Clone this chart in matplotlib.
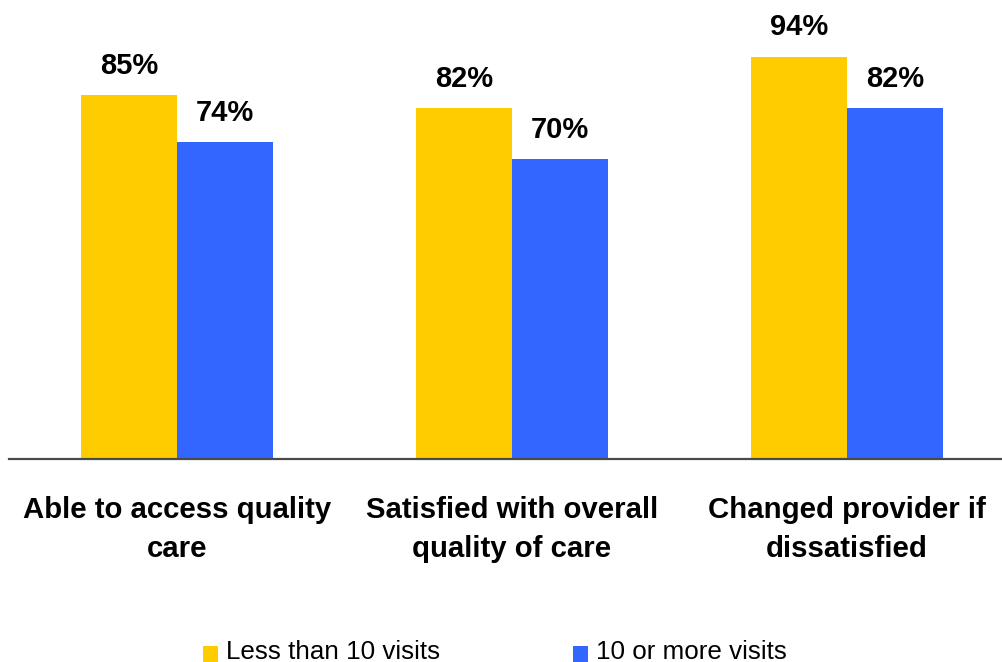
import matplotlib
matplotlib.use("Agg")
import matplotlib.pyplot as plt
from matplotlib.patches import Rectangle

plt.rcParams['font.family'] = ['Liberation Sans', 'DejaVu Sans']

categories = [["Able to access quality", "care"],
              ["Satisfied with overall", "quality of care"],
              ["Changed provider if", "dissatisfied"]]
series_names = ["Less than 10 visits", "10 or more visits"]
less_than_10 = [85, 82, 94]
ten_or_more = [74, 70, 82]
colors = ["#FFCC00", "#3366FF"]

W, H = 1002, 662
fig = plt.figure(figsize=(W / 100, H / 100), dpi=100)
ax = fig.add_axes([9 / W, (H - 459) / H, 993 / W, 428 / H])

xmin = -(177 - 9) / 335
xmax = xmin + 993 / 335
ax.set_xlim(xmin, xmax)
ax.set_ylim(0, 100)

bw = 96 / 335
xs = list(range(len(categories)))
for vals, col, sgn in [(less_than_10, colors[0], -1), (ten_or_more, colors[1], 1)]:
    pos = [x + sgn * bw / 2 for x in xs]
    ax.bar(pos, vals, width=bw, color=col, edgecolor='none', zorder=2)
    for p, v in zip(pos, vals):
        ax.annotate(f"{v}%", xy=(p, v), xytext=(0, 15.5), textcoords='offset points',
                    ha='center', va='baseline', fontsize=21, fontweight='bold',
                    color='black')

for s in ['top', 'right', 'left']:
    ax.spines[s].set_visible(False)
ax.spines['bottom'].set_color('#4a4a4a')
ax.spines['bottom'].set_linewidth(1.6)
ax.spines['bottom'].set_zorder(3)
ax.set_xticks([])
ax.set_yticks([])

# category labels
for x, lines in zip(xs, categories):
    for i, line in enumerate(lines):
        dy = -(518 - 459) - i * 39  # pixels below baseline
        ax.annotate(line, xy=(x, 0), xytext=(0, dy * 0.72), textcoords='offset points',
                    ha='center', va='baseline', fontsize=21.2, fontweight='bold',
                    color='black', annotation_clip=False)

# legend (manual)
leg_items = [(203, 226, series_names[0], colors[0]), (573, 596, series_names[1], colors[1])]
for sx, tx, name, col in leg_items:
    fig.patches.append(Rectangle((sx / W, (H - 662) / H), 15 / W, 16 / H,
                                 transform=fig.transFigure, facecolor=col,
                                 edgecolor='none'))
    fig.text(tx / W, (H - 659) / H, name, ha='left', va='baseline',
             fontsize=18.7, color='black')

fig.savefig("out.png", dpi=100)
